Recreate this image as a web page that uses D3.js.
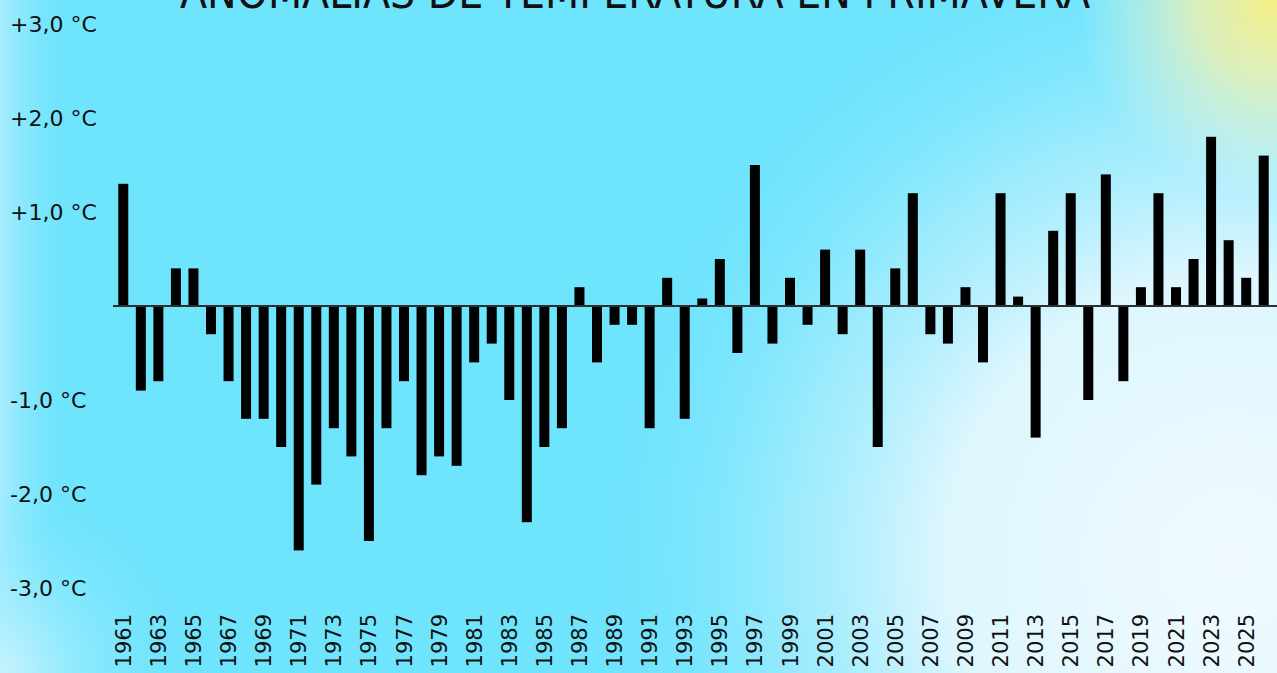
<!DOCTYPE html>
<html>
<head>
<meta charset="utf-8">
<script src="https://cdn.jsdelivr.net/npm/d3@7"></script>
<style>
  html, body { margin: 0; padding: 0; overflow: hidden; }
  svg { display: block; }
</style>
</head>
<body>
<svg id="chart" width="1277" height="673"></svg>
<script>
// datos: anomalias de temperatura en primavera (°C)
var years = d3.range(1961, 2027);
var anomalies = [
  1.3, -0.9, -0.8, 0.4, 0.4, -0.3, -0.8, -1.2, -1.2, -1.5,
  -2.6, -1.9, -1.3, -1.6, -2.5, -1.3, -0.8, -1.8, -1.6, -1.7,
  -0.6, -0.4, -1.0, -2.3, -1.5, -1.3, 0.2, -0.6, -0.2, -0.2,
  -1.3, 0.3, -1.2, 0.08, 0.5, -0.5, 1.5, -0.4, 0.3, -0.2,
  0.6, -0.3, 0.6, -1.5, 0.4, 1.2, -0.3, -0.4, 0.2, -0.6,
  1.2, 0.1, -1.4, 0.8, 1.2, -1.0, 1.4, -0.8, 0.2, 1.2,
  0.2, 0.5, 1.8, 0.7, 0.3, 1.6
];
var yTicks = [3, 2, 1, -1, -2, -3];
var xTickYears = years.filter(function (d) { return (d - 1961) % 2 === 0; });
var title = "ANOMALÍAS DE TEMPERATURA EN PRIMAVERA";

var data = years.map(function (y, i) { return {year: y, value: anomalies[i]}; });

var svg = d3.select("#chart"),
    width = +svg.attr("width"),
    height = +svg.attr("height");

var defs = svg.append("defs");

function radial(id, cx, cy, r, stops) {
  var g = defs.append("radialGradient")
      .attr("id", id)
      .attr("gradientUnits", "userSpaceOnUse")
      .attr("cx", cx).attr("cy", cy).attr("r", r);
  stops.forEach(function (s) {
    g.append("stop")
        .attr("offset", s[0])
        .attr("stop-color", s[1])
        .attr("stop-opacity", s[2]);
  });
}

radial("lightBR", 1230, 560, 640, [[0, "#f1fbff", 1], [0.45, "#e3f7fe", 0.95], [0.7, "#b5effd", 0.6], [1, "#6fe4fd", 0]]);
radial("lightBL", 0, 673, 200, [[0, "#c6f3fe", 1], [1, "#6fe4fd", 0]]);
radial("sun", 1277, 0, 200, [[0, "#f6ef84", 1], [0.4, "#f1f1ad", 0.8], [1, "#eaf6e0", 0]]);

var edge = defs.append("linearGradient").attr("id", "edgeL")
    .attr("x1", 0).attr("x2", 1).attr("y1", 0).attr("y2", 0);
edge.append("stop").attr("offset", 0).attr("stop-color", "#a9edfe").attr("stop-opacity", 1);
edge.append("stop").attr("offset", 1).attr("stop-color", "#6fe4fd").attr("stop-opacity", 0);

svg.append("rect").attr("width", width).attr("height", height).attr("fill", "#6fe4fd");
svg.append("rect").attr("width", 70).attr("height", height).attr("fill", "url(#edgeL)");
svg.append("rect").attr("width", width).attr("height", height).attr("fill", "url(#lightBR)");
svg.append("rect").attr("width", width).attr("height", height).attr("fill", "url(#lightBL)");
svg.append("rect").attr("width", width).attr("height", height).attr("fill", "url(#sun)");

var x = d3.scaleBand()
    .domain(years)
    .range([114.5, 1272.5])
    .paddingInner(0.43)
    .paddingOuter(0.215);

var y = d3.scaleLinear()
    .domain([-3, 3])
    .range([588, 24]);

// title, cut by top edge like the original
svg.append("text")
    .attr("x", 635)
    .attr("y", 8)
    .attr("text-anchor", "middle")
    .attr("font-family", "'Liberation Sans Narrow', 'DejaVu Sans Condensed', sans-serif")
    .attr("font-size", 44)
    .attr("textLength", 910)
    .attr("lengthAdjust", "spacingAndGlyphs")
    .attr("fill", "#111")
    .text(title);

// y labels
svg.append("g")
    .selectAll("text")
    .data(yTicks)
    .enter()
    .append("text")
    .attr("x", 10)
    .attr("y", function (d) { return y(d); })
    .attr("dy", "0.36em")
    .attr("font-family", "'DejaVu Sans', sans-serif")
    .attr("font-size", 22)
    .attr("fill", "#111")
    .text(function (d) {
      return (d > 0 ? "+" : "-") + d3.format(".1f")(Math.abs(d)).replace(".", ",") + " \u00B0C";
    });

// bars
svg.append("g")
    .selectAll("rect")
    .data(data)
    .enter()
    .append("rect")
    .attr("x", function (d) { return x(d.year); })
    .attr("width", x.bandwidth())
    .attr("y", function (d) { return y(Math.max(0, d.value)); })
    .attr("height", function (d) { return Math.abs(y(d.value) - y(0)); })
    .attr("fill", "#000");

// zero line
svg.append("line")
    .attr("x1", 113)
    .attr("x2", width)
    .attr("y1", y(0))
    .attr("y2", y(0))
    .attr("stroke", "#2a2f30")
    .attr("stroke-width", 2);

// x labels
svg.append("g")
    .selectAll("text")
    .data(xTickYears)
    .enter()
    .append("text")
    .attr("transform", function (d) {
      return "translate(" + (x(d) + x.bandwidth() / 2) + ",614) rotate(-90)";
    })
    .attr("dy", "0.36em")
    .attr("text-anchor", "end")
    .attr("font-family", "'DejaVu Sans', sans-serif")
    .attr("font-size", 21)
    .attr("fill", "#111")
    .text(function (d) { return d; });
</script>
</body>
</html>
